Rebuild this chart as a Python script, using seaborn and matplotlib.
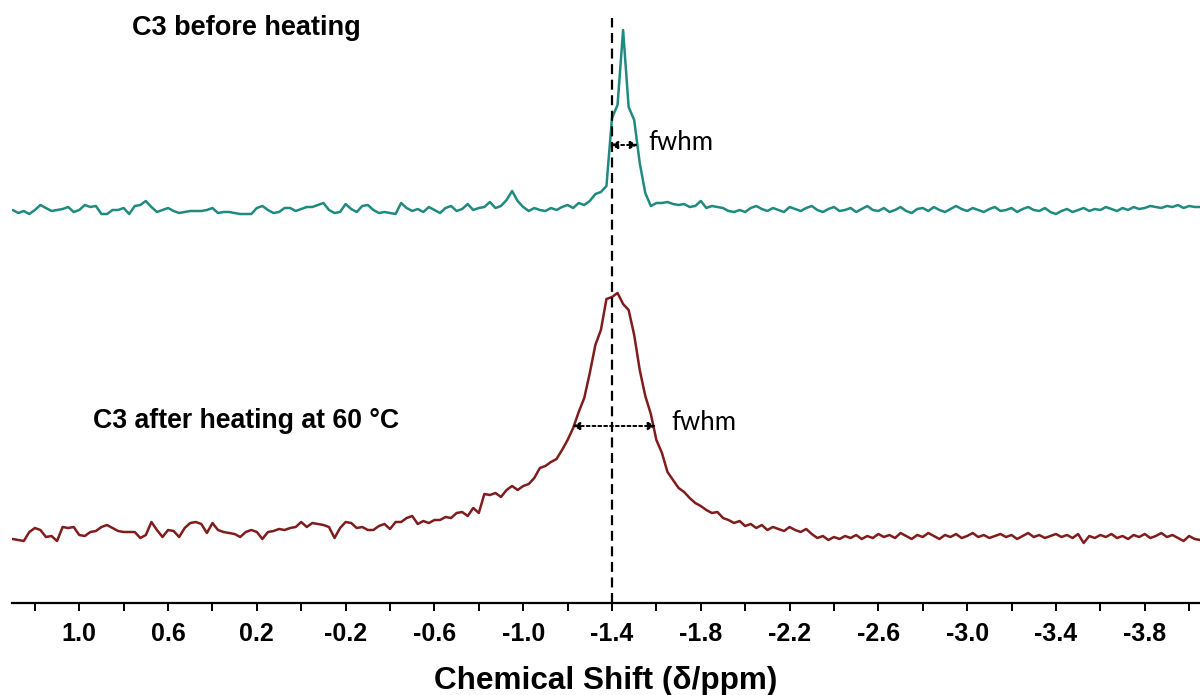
import numpy as np
import pandas as pd
import matplotlib
matplotlib.use("Agg")
import matplotlib.pyplot as plt
from matplotlib.ticker import FixedLocator, MultipleLocator
import seaborn as sns

# Chemical-shift grid (ppm), 0.025 ppm spacing, high to low field
shift_start, shift_step, n_points = 1.30, 0.025, 215

# Intensities (a.u.) above each trace's own baseline
before_heating = [
    0, -3, -1, -4, 0, 5, 2, -1, 0, 1, 3, -2, 0, 5, 3, 4, -4, -4, 0, 0,
    2, -4, 4, 5, 9, 3, -2, 0, 2, -1, -3, -2, -1, -1, -1, 0, 2, -3, -2, -2,
    -3, -4, -4, -4, 2, 4, 0, -3, -2, 2, 2, -1, 1, 3, 3, 5, 7, 0, -3, -2,
    6, 1, -2, 4, 5, 0, -3, -2, -3, -4, 7, 2, -1, 1, -2, 3, 0, -3, 2, 4,
    -1, 1, 6, 0, 2, 3, 8, 2, 4, 10, 19, 9, 3, -1, 2, 0, -1, 2, 0, 3,
    5, 2, 7, 5, 9, 16, 18, 24, 92, 105, 180, 103, 90, 47, 17, 4, 7, 7, 8, 6,
    5, 6, 3, 4, 9, 2, 4, 3, 2, -1, -2, 0, -2, 2, 4, 1, -1, 2, 0, -2,
    3, 1, -1, 2, 4, 0, -2, 1, 3, -1, 0, 2, -2, 1, 4, 0, -1, 2, -2, 0,
    3, -1, -3, 1, 2, -1, 3, 0, -2, 1, 4, 1, -1, 2, 0, -2, 1, 3, -1, 0,
    2, -2, 1, 3, 0, -1, 2, -2, -4, -1, 1, -2, 0, 2, -1, 1, 0, 3, 1, -1,
    2, 0, 3, 1, 2, 4, 3, 2, 4, 3, 5, 2, 4, 3, 3,
]
after_heating = [
    -4, -5, -6, 3, 7, 5, -2, -1, -6, 8, 7, 8, 0, -1, 3, 4, 8, 10, 7, 4,
    3, 3, 3, -3, 0, 13, 5, -2, 5, 4, -2, 7, 12, 13, 11, 2, 12, 5, 3, 2,
    1, -2, 3, 5, 3, -4, 3, 4, 6, 5, 7, 8, 13, 8, 12, 11, 10, 8, -3, 7,
    13, 12, 7, 8, 5, 5, 9, 11, 6, 13, 13, 17, 19, 11, 14, 12, 15, 15, 18, 17,
    22, 23, 19, 27, 22, 41, 40, 42, 38, 45, 49, 45, 49, 51, 57, 67, 69, 73, 76, 85,
    95, 107, 123, 137, 162, 190, 205, 236, 238, 242, 231, 225, 200, 165, 139, 121, 95, 82, 63, 55,
    47, 43, 37, 32, 29, 25, 22, 23, 17, 15, 12, 14, 9, 11, 7, 10, 5, 8, 6, 4,
    8, 5, 3, 6, 1, -3, -1, -5, -2, -4, -1, -3, 0, -4, -1, -3, 1, -2, 0, -3,
    2, -1, -4, 0, -2, 2, -1, -4, 0, -2, 1, -3, -1, 2, -2, 0, -3, -1, 1, -2,
    0, -4, -1, 2, -2, 0, -3, -1, 1, -2, 0, -3, 1, -8, -1, -3, 0, -2, 1, -3,
    -1, -4, 0, -2, 1, -3, -1, 2, -2, 0, -3, -6, -1, -4, -5,
]

tick_labels = [1.0, 0.6, 0.2, -0.2, -0.6, -1.0, -1.4, -1.8, -2.2, -2.6, -3.0, -3.4, -3.8]
reference_shift = -1.4
fwhm_before = (-1.391, -1.517)
fwhm_after = (-1.220, -1.598)

# vertical stacking of the two traces
offset_before, offset_after = 393, 68
color_before, color_after = "#1f8a80", "#801c1c"

shift = np.round(shift_start - shift_step * np.arange(n_points), 4)
df = pd.concat([
    pd.DataFrame({"shift": shift, "signal": np.array(before_heating) + offset_before,
                  "sample": "before"}),
    pd.DataFrame({"shift": shift, "signal": np.array(after_heating) + offset_after,
                  "sample": "after"}),
])

sns.set_style("white")
plt.rcParams["font.family"] = ["Liberation Sans", "DejaVu Sans"]
plt.rcParams["text.color"] = "black"
plt.rcParams["axes.labelcolor"] = "black"
plt.rcParams["xtick.color"] = "black"

fig = plt.figure(figsize=(12, 6.95), dpi=100)
ax = fig.add_axes([12 / 1200, 92 / 695, 1188 / 1200, 603 / 695])

sns.lineplot(data=df, x="shift", y="signal", hue="sample",
             palette={"before": color_before, "after": color_after},
             sort=False, estimator=None, linewidth=1.8, legend=False, ax=ax)

ax.set_xlim(1.303, -4.049)
ax.set_ylim(0, 603)

# reference position
ax.vlines(reference_shift, 0, 585, colors="black", linestyles=(0, (4.5, 2.5)), linewidth=1.6)

# full width at half maximum markers
arrow_kw = dict(arrowstyle="<|-|>", linestyle=(0, (1.5, 1.5)), color="black",
                lw=1.4, mutation_scale=11, shrinkA=0, shrinkB=0)
ax.annotate("", xy=(fwhm_before[0], 458), xytext=(fwhm_before[1], 458), arrowprops=arrow_kw)
ax.annotate("", xy=(fwhm_after[0], 177), xytext=(fwhm_after[1], 177), arrowprops=arrow_kw)
ax.text(-1.562, 460, "fwhm", fontsize=18.5, family=["Lato", "DejaVu Sans"], va="center", ha="left")
ax.text(-1.666, 180, "fwhm", fontsize=18.5, family=["Lato", "DejaVu Sans"], va="center", ha="left")

ax.text(0.762, 575, "C3 before heating", fontsize=19.5, fontweight="bold", va="center", ha="left")
ax.text(0.938, 182, "C3 after heating at 60 \u00b0C", fontsize=19.2, fontweight="bold",
        va="center", ha="left")

for side in ("left", "right", "top"):
    ax.spines[side].set_visible(False)
ax.spines["bottom"].set_linewidth(1.6)
ax.spines["bottom"].set_color("black")

ax.xaxis.set_major_locator(FixedLocator(tick_labels))
ax.xaxis.set_minor_locator(MultipleLocator(0.2))
ax.set_xticklabels([f"{v:.1f}" for v in tick_labels], fontsize=18, fontweight="bold")
ax.tick_params(axis="x", which="both", direction="out", length=6, width=1.4,
               color="black", pad=8, bottom=True)
ax.set_yticks([])
ax.set_ylabel("")
ax.set_xlabel("Chemical Shift (\u03b4/ppm)", fontsize=22.7, fontweight="bold", labelpad=14)

fig.savefig("out.png", dpi=100)
